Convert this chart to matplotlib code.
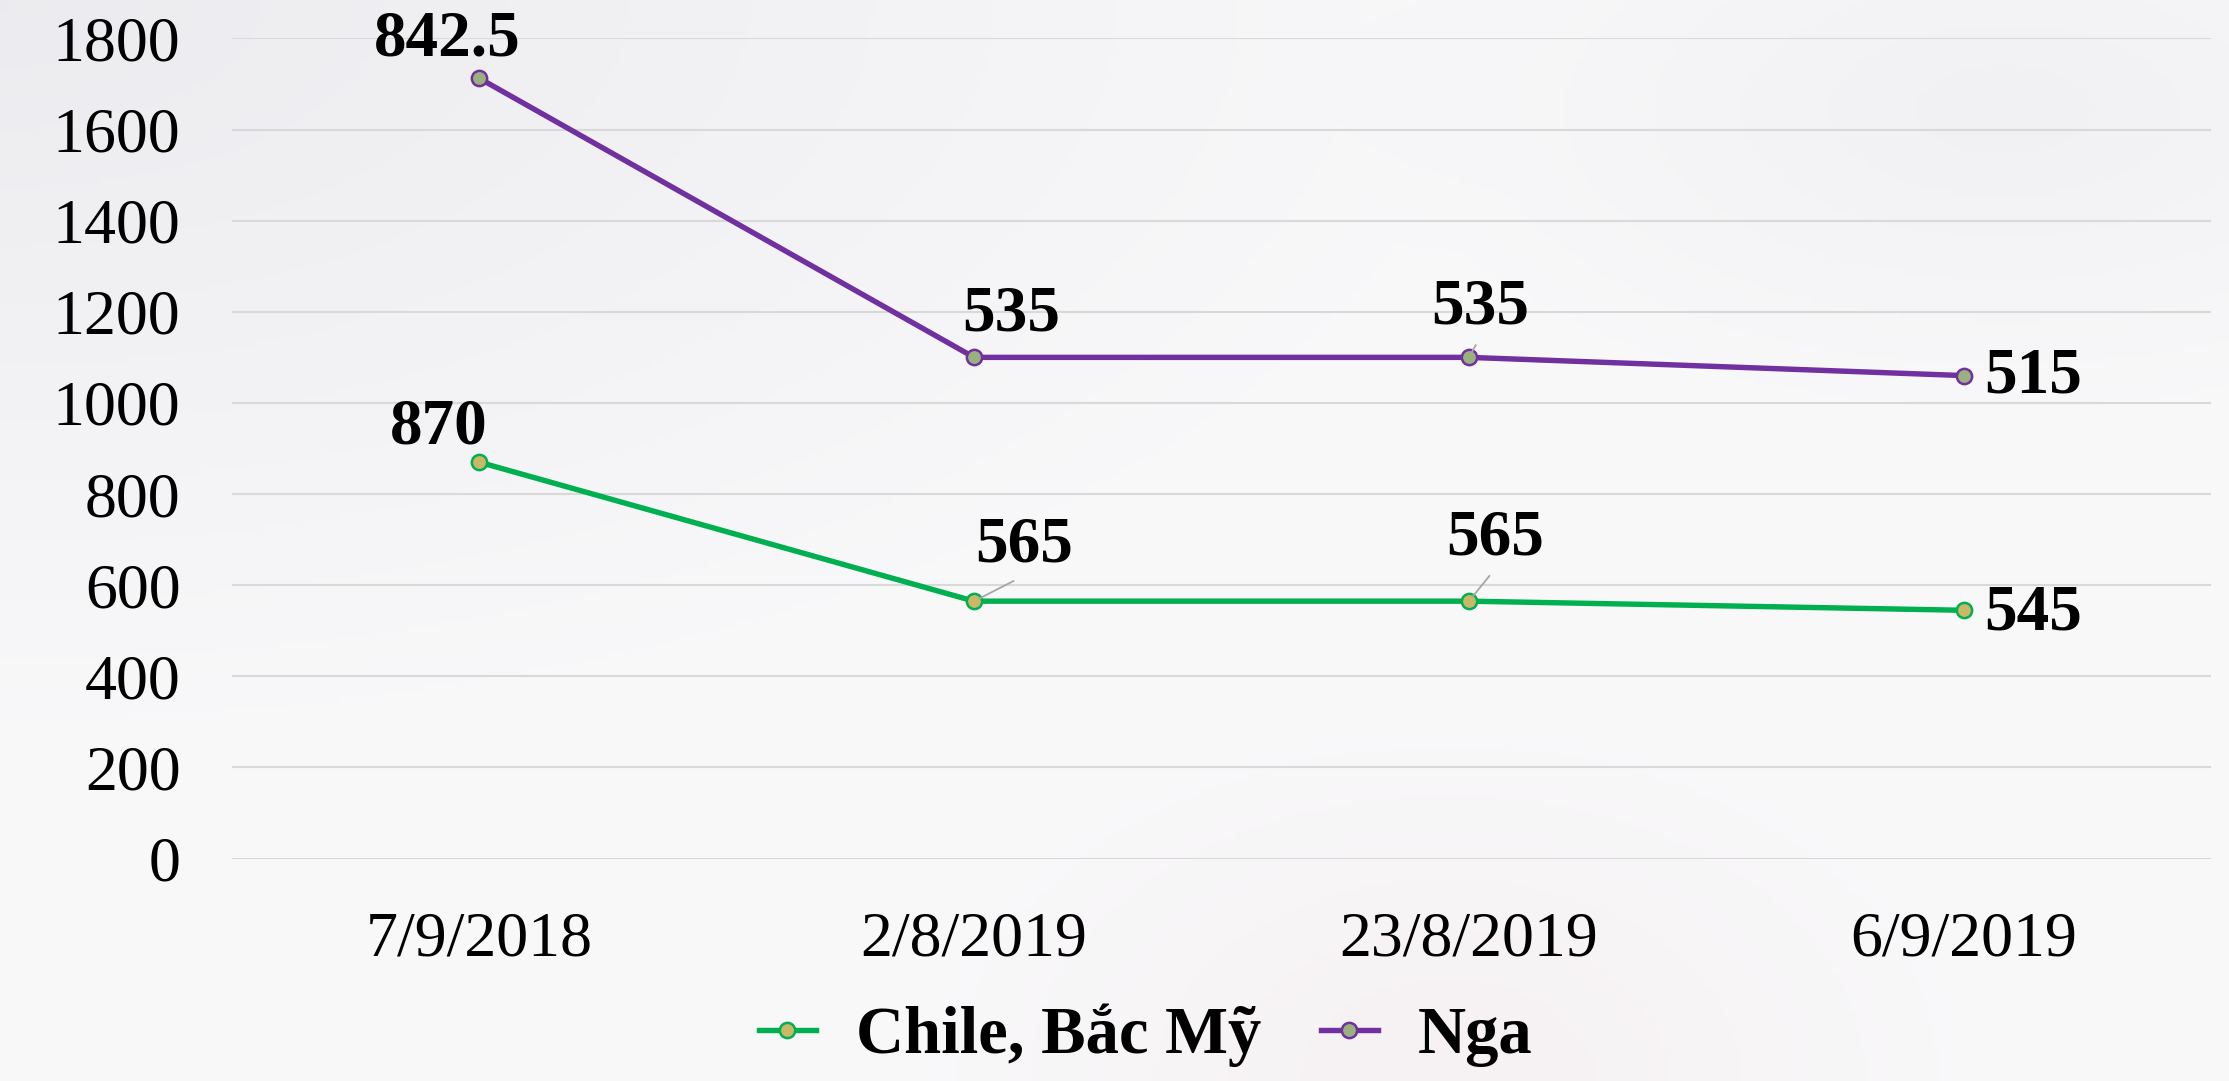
import numpy as np
import matplotlib
matplotlib.use("Agg")
import matplotlib.pyplot as plt
from matplotlib.lines import Line2D

plt.rcParams['font.family'] = ['Liberation Serif', 'DejaVu Serif']

categories = ["7/9/2018", "2/8/2019", "23/8/2019", "6/9/2019"]
chile = [870, 565, 565, 545]
nga = [842.5, 535, 535, 515]
series_names = ["Chile, Bắc Mỹ", "Nga"]
yticks = [0, 200, 400, 600, 800, 1000, 1200, 1400, 1600, 1800]

# stacked line chart: Nga plotted on top of Chile
nga_stacked = [c + n for c, n in zip(chile, nga)]

fig = plt.figure(figsize=(22.29, 10.81), dpi=100)

# subtle background gradient
bg = fig.add_axes([0, 0, 1, 1], zorder=-10)
h, w = 200, 400
yy, xx = np.mgrid[0:1:h*1j, 0:1:w*1j]
base = np.ones((h, w, 3)) * np.array([0.975, 0.975, 0.98])
d_tl = np.sqrt(xx**2 + yy**2)
shade = np.clip(1 - d_tl / 0.7, 0, 1)[..., None]
base = base - shade * np.array([0.05, 0.05, 0.04])
d_br = np.sqrt(((xx - 0.65) / 0.25)**2 + ((yy - 1.0) / 0.35)**2)
pink = np.clip(1 - d_br, 0, 1)[..., None]
base = base - pink * np.array([0.01, 0.03, 0.03])
d_tr = np.sqrt(((xx - 0.9) / 0.3)**2 + ((yy - 0.1) / 0.3)**2)
tr = np.clip(1 - d_tr, 0, 1)[..., None]
base = base - tr * np.array([0.03, 0.03, 0.025])
bg.imshow(np.clip(base, 0, 1), aspect='auto', extent=[0, 1, 0, 1], origin='upper')
bg.axis('off')

ax = fig.add_axes([0.104, 0.2057, 0.888, 0.7588])
ax.set_facecolor('none')
x = np.arange(len(categories))

green = '#00b050'
purple = '#7030a0'
ax.plot(x, chile, color=green, lw=3.9, marker='o', ms=11, mfc='#c9b865',
        mec=green, mew=1.8, zorder=3, solid_capstyle='round')
ax.plot(x, nga_stacked, color=purple, lw=3.9, marker='o', ms=11, mfc='#9bb07f',
        mec=purple, mew=1.8, zorder=3, solid_capstyle='round')

ax.set_xlim(-0.5, len(categories) - 0.5)
ax.set_ylim(0, 1800)
ax.set_yticks(yticks)
ax.set_yticklabels([str(v) for v in yticks])
ax.set_xticks(x)
ax.set_xticklabels(categories)
ax.tick_params(axis='both', length=0, labelsize=46)
ax.tick_params(axis='y', pad=37)
ax.tick_params(axis='x', pad=38)
ax.grid(axis='y', color='#d9d9d9', lw=1.5)
ax.set_axisbelow(True)
for s in ax.spines.values():
    s.set_visible(False)

lab_kw = dict(fontsize=47, fontweight='bold', color='black', textcoords='offset points', zorder=5)
leader = dict(arrowstyle='-', color='#a6a6a6', lw=1.3, shrinkA=4, shrinkB=4, relpos=(0.5, 0.0))

# Nga labels
nga_off = [(-23, 28), (27, 31), (8, 36)]
for i in range(3):
    kw = dict(lab_kw)
    if i == 2:
        kw['arrowprops'] = leader
    ax.annotate(f"{nga[i]:g}", (x[i], nga_stacked[i]), xytext=nga_off[i], ha='center', va='center', **kw)
ax.annotate(f"{nga[3]:g}", (x[3], nga_stacked[3]), xytext=(15, -1), ha='left', va='center', **lab_kw)

# Chile labels
chile_off = [(-29, 25), (36, 40), (19, 45)]
for i in range(3):
    kw = dict(lab_kw)
    if i in (1, 2):
        kw['arrowprops'] = leader
    ax.annotate(f"{chile[i]:g}", (x[i], chile[i]), xytext=chile_off[i], ha='center', va='center', **kw)
ax.annotate(f"{chile[3]:g}", (x[3], chile[3]), xytext=(15, -2), ha='left', va='center', **lab_kw)

handles = [
    Line2D([], [], color=green, lw=3.9, marker='o', ms=11, mfc='#c9b865', mec=green, mew=1.8),
    Line2D([], [], color=purple, lw=3.9, marker='o', ms=11, mfc='#9bb07f', mec=purple, mew=1.8),
]
fig.legend(handles, series_names, loc='center', bbox_to_anchor=(0.514, 0.042), ncol=2,
           frameon=False, prop=dict(size=48, weight='bold'), handlelength=0.85,
           columnspacing=0.9, handletextpad=0.6)

fig.savefig('out.png', dpi=100)
